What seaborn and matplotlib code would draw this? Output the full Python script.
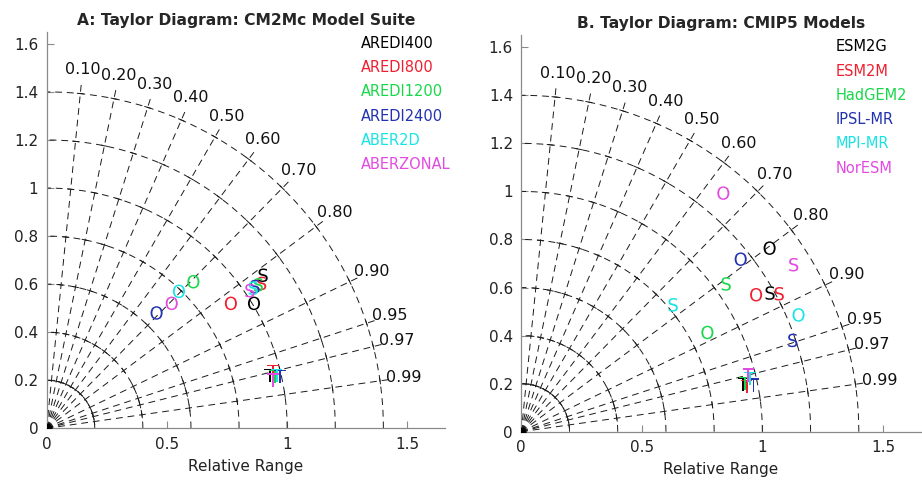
import numpy as np
import pandas as pd
import matplotlib
matplotlib.use("Agg")
import matplotlib.pyplot as plt
import seaborn as sns

sns.set_style("white")
plt.rcParams['font.family'] = ['DejaVu Sans']

# ---------------- data ----------------
models_a = ["AREDI400", "AREDI800", "AREDI1200", "AREDI2400", "ABER2D", "ABERZONAL"]
models_b = ["ESM2G", "ESM2M", "HadGEM2", "IPSL-MR", "MPI-MR", "NorESM"]
colors = ["#000000", "#ee2030", "#18d84a", "#2232b0", "#18e4e4", "#e24ae2"]

# Panel A: x/y positions (relative range coordinates) for O, S, T markers
a_O_x = [0.862, 0.766, 0.61, 0.457, 0.55, 0.52]
a_O_y = [0.520, 0.520, 0.61, 0.480, 0.57, 0.52]
a_S_x = [0.900, 0.894, 0.880, 0.866, 0.859, 0.845]
a_S_y = [0.637, 0.603, 0.597, 0.590, 0.583, 0.573]
a_T_x = [0.928, 0.942, 0.949, 0.970, 0.956, 0.942]
a_T_y = [0.219, 0.236, 0.215, 0.215, 0.219, 0.200]

# Panel B
b_O_x = [1.030, 0.974, 0.772, 0.910, 1.150, 0.838]
b_O_y = [0.764, 0.570, 0.413, 0.718, 0.486, 0.993]
b_S_x = [1.032, 1.070, 0.850, 1.126, 0.630, 1.130]
b_S_y = [0.577, 0.574, 0.615, 0.380, 0.528, 0.695]
b_T_x = [0.921, 0.935, 0.928, 0.963, 0.949, 0.942]
b_T_y = [0.199, 0.188, 0.200, 0.195, 0.222, 0.236]

corr_ticks = [0.10, 0.20, 0.30, 0.40, 0.50, 0.60, 0.70, 0.80, 0.90, 0.95, 0.97, 0.99]
corr_labels = ["0.10", "0.20", "0.30", "0.40", "0.50", "0.60", "0.70", "0.80",
               "0.90", "0.95", "0.97", "0.99"]
std_arcs = [0.2, 0.4, 0.6, 0.8, 1.0, 1.2, 1.4]
x_ticks = [0, 0.5, 1, 1.5]
x_ticklabels = ["0", "0.5", "1", "1.5"]
y_ticks = [0, 0.2, 0.4, 0.6, 0.8, 1.0, 1.2, 1.4, 1.6]
y_ticklabels = ["0", "0.2", "0.4", "0.6", "0.8", "1", "1.2", "1.4", "1.6"]

titles = ["A: Taylor Diagram: CM2Mc Model Suite", "B. Taylor Diagram: CMIP5 Models"]


def make_df(models, ox, oy, sx, sy, tx, ty):
    rows = []
    for i, m in enumerate(models):
        rows.append((m, "O", ox[i], oy[i]))
        rows.append((m, "S", sx[i], sy[i]))
        rows.append((m, "T", tx[i], ty[i]))
    return pd.DataFrame(rows, columns=["model", "stat", "x", "y"])


df_a = make_df(models_a, a_O_x, a_O_y, a_S_x, a_S_y, a_T_x, a_T_y)
df_b = make_df(models_b, b_O_x, b_O_y, b_S_x, b_S_y, b_T_x, b_T_y)

fig = plt.figure(figsize=(9.22, 4.80), dpi=100)
ax_a = fig.add_axes([0.0506, 0.1077, 0.432, 0.826])
ax_b = fig.add_axes([0.5654, 0.1006, 0.433, 0.826])

dash = (0, (7, 5))
grid_lw = 0.7
grid_col = "#1a1a1a"


def draw_grid(ax):
    th = np.linspace(0, np.pi / 2, 300)
    for r in std_arcs:
        ax.plot(r * np.cos(th), r * np.sin(th), color=grid_col, lw=grid_lw,
                linestyle=dash, zorder=1)
    for c, lab in zip(corr_ticks, corr_labels):
        ang = np.arccos(c)
        ca, sa = np.cos(ang), np.sin(ang)
        ax.plot([0, 1.45 * ca], [0, 1.45 * sa], color=grid_col, lw=grid_lw,
                linestyle=dash, zorder=1)
        # small perpendicular ticks at each radius
        for r in std_arcs:
            px, py = r * ca, r * sa
            h = 0.013
            ax.plot([px - h * sa, px + h * sa], [py + h * ca, py - h * ca],
                    color=grid_col, lw=grid_lw, zorder=1)
        ax.text(1.5 * ca, 1.5 * sa, lab, ha="center", va="center",
                fontsize=11.5, color="#111111")
    ax.scatter([0], [0], s=40, color="black", zorder=3, clip_on=True)


def style_axes(ax, title):
    ax.set_xlim(0, 1.656)
    ax.set_ylim(0, 1.65)
    ax.set_xticks(x_ticks)
    ax.set_xticklabels(x_ticklabels)
    ax.set_yticks(y_ticks)
    ax.set_yticklabels(y_ticklabels)
    for s in ["top", "right"]:
        ax.spines[s].set_visible(False)
    for s in ["left", "bottom"]:
        ax.spines[s].set_color("#8a8a8a")
        ax.spines[s].set_linewidth(0.9)
    ax.tick_params(direction="in", length=5, width=0.8, colors="#8a8a8a",
                   labelcolor="#222222", labelsize=11, pad=6,
                   bottom=True, left=True)
    ax.set_xlabel("Relative Range", fontsize=11, color="#222222", labelpad=5)
    ax.set_ylabel("")
    ax.set_title(title, fontsize=11.2, fontweight="bold", pad=5)


markers = {"O": r"$\mathsf{O}$", "S": r"$\mathsf{S}$", "T": r"$\mathsf{T}$"}

for ax, df, models, title in [(ax_a, df_a, models_a, titles[0]),
                              (ax_b, df_b, models_b, titles[1])]:
    draw_grid(ax)
    pal = dict(zip(models, colors))
    sns.scatterplot(data=df, x="x", y="y", hue="model", style="stat",
                    hue_order=models, palette=pal, markers=markers, s=95,
                    linewidth=0, legend=False, ax=ax, zorder=4)
    style_axes(ax, title)
    for i, (m, col) in enumerate(zip(models, colors)):
        ax.text(0.788, 0.971 - i * 0.0613, m, color=col, fontsize=10.5,
                ha="left", va="center", transform=ax.transAxes)

fig.savefig("out.png", dpi=100)
